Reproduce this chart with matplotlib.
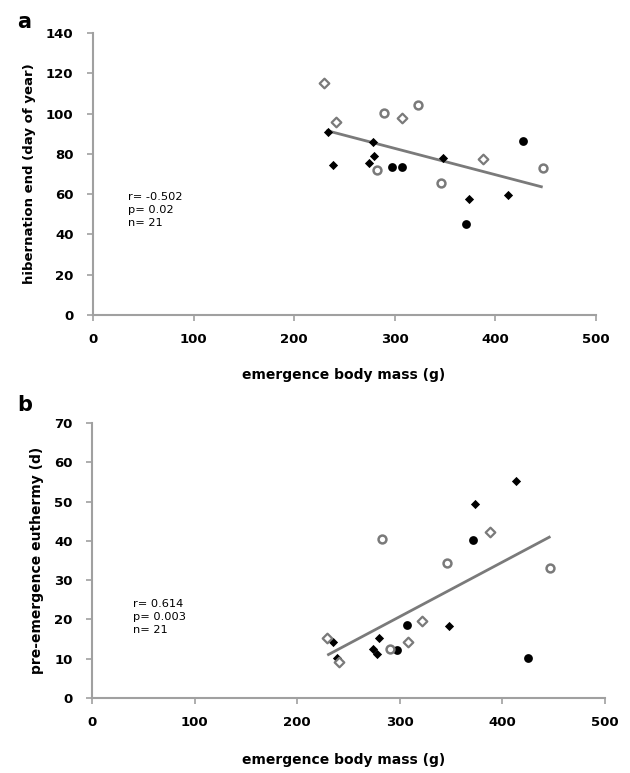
import matplotlib
matplotlib.use("Agg")
import matplotlib.pyplot as plt

# ---------------- data: panel a ----------------
a_fd_x = [233.9, 278.3, 279.0, 238.6, 274.3, 347.9, 373.3, 412.8]
a_fd_y = [91.0, 86.0, 79.1, 74.3, 75.3, 78.1, 57.6, 59.7]
a_fc_x = [297.0, 307.2, 427.4, 371.0]
a_fc_y = [73.3, 73.3, 86.2, 45.0]
a_oc_x = [289.0, 322.8, 282.6, 345.9, 447.0]
a_oc_y = [100.4, 104.1, 72.1, 65.5, 73.0]
a_od_x = [229.3, 241.2, 307.2, 388.0]
a_od_y = [115.3, 95.8, 97.7, 77.3]
a_line_x = [232.0, 447.0]
a_line_y = [91.6, 63.5]
a_stats = "r= -0.502\np= 0.02\nn= 21"
a_ylabel = "hibernation end (day of year)"
a_yticks = [0, 20, 40, 60, 80, 100, 120, 140]

# ---------------- data: panel b ----------------
b_fd_x = [373.3, 348.0, 234.6, 279.4, 273.6, 277.5, 238.5, 413.3]
b_fd_y = [49.4, 18.3, 14.3, 15.3, 12.4, 11.2, 10.3, 55.3]
b_fc_x = [371.7, 307.4, 297.6, 425.3]
b_fc_y = [40.2, 18.5, 12.1, 10.1]
b_oc_x = [282.7, 346.0, 290.5, 447.0]
b_oc_y = [40.5, 34.4, 12.5, 33.0]
b_od_x = [322.0, 229.4, 307.7, 241.0, 387.9]
b_od_y = [19.5, 15.4, 14.3, 9.2, 42.3]
b_line_x = [229.4, 447.0]
b_line_y = [10.9, 41.1]
b_stats = "r= 0.614\np= 0.003\nn= 21"
b_ylabel = "pre-emergence euthermy (d)"
b_yticks = [0, 10, 20, 30, 40, 50, 60, 70]

xticks = [0, 100, 200, 300, 400, 500]
xlabel = "emergence body mass (g)"

fig = plt.figure(figsize=(6.30, 7.73), dpi=100)
fig.patch.set_facecolor("white")

spine_col = "#a0a0a0"
open_col = "#7a7a7a"


def panel(rect, fd, fc, oc, od, line, stats, stats_pos, ylabel, ylsize, yticks, ymax,
          letter, letter_pos, xlabel_y):
    ax = fig.add_axes(rect)
    ax.set_xlim(0, 500)
    ax.set_ylim(0, ymax)
    for s in ["top", "right"]:
        ax.spines[s].set_visible(False)
    for s in ["left", "bottom"]:
        ax.spines[s].set_color(spine_col)
        ax.spines[s].set_linewidth(1.5)
    ax.set_xticks(xticks)
    ax.set_yticks(yticks)
    ax.tick_params(axis="both", colors=spine_col, length=4, width=1.2,
                   labelcolor="black", labelsize=9.5)
    ax.tick_params(axis="x", pad=9)
    ax.tick_params(axis="y", pad=10)
    for lab in ax.get_xticklabels() + ax.get_yticklabels():
        lab.set_fontweight("bold")
    ax.plot(line[0], line[1], color="#7a7a7a", lw=2.0, zorder=2, solid_capstyle="butt")
    ax.scatter(fd[0], fd[1], marker="D", s=22, color="black", zorder=3, linewidths=0)
    ax.scatter(fc[0], fc[1], marker="o", s=40, color="black", zorder=3, linewidths=0)
    ax.scatter(oc[0], oc[1], marker="o", s=32, facecolor="white", edgecolor=open_col,
               linewidths=1.8, zorder=3)
    ax.scatter(od[0], od[1], marker="D", s=24, facecolor="white", edgecolor=open_col,
               linewidths=1.6, zorder=3)
    ax.text(stats_pos[0], stats_pos[1], stats, fontsize=8.2, va="top", ha="left",
            linespacing=1.35)
    ax.set_ylabel(ylabel, fontsize=ylsize, fontweight="bold", labelpad=7)
    fig.text(0.546, xlabel_y, xlabel, fontsize=10, fontweight="bold", ha="center", va="center")
    fig.text(letter_pos[0], letter_pos[1], letter, fontsize=15, fontweight="bold",
             ha="left", va="center")
    return ax


panel([0.1476, 0.5925, 0.7984, 0.3648],
      (a_fd_x, a_fd_y), (a_fc_x, a_fc_y), (a_oc_x, a_oc_y), (a_od_x, a_od_y),
      (a_line_x, a_line_y), a_stats, (35, 61), a_ylabel, 9.5, a_yticks, 140,
      "a", (0.027, 0.972), 1 - 375 / 773)

panel([0.146, 0.097, 0.814, 0.3558],
      (b_fd_x, b_fd_y), (b_fc_x, b_fc_y), (b_oc_x, b_oc_y), (b_od_x, b_od_y),
      (b_line_x, b_line_y), b_stats, (40, 25.2), b_ylabel, 10, b_yticks, 70,
      "b", (0.027, 1 - 405 / 773), 1 - 760 / 773)

fig.savefig("out.png", dpi=100, facecolor="white")
